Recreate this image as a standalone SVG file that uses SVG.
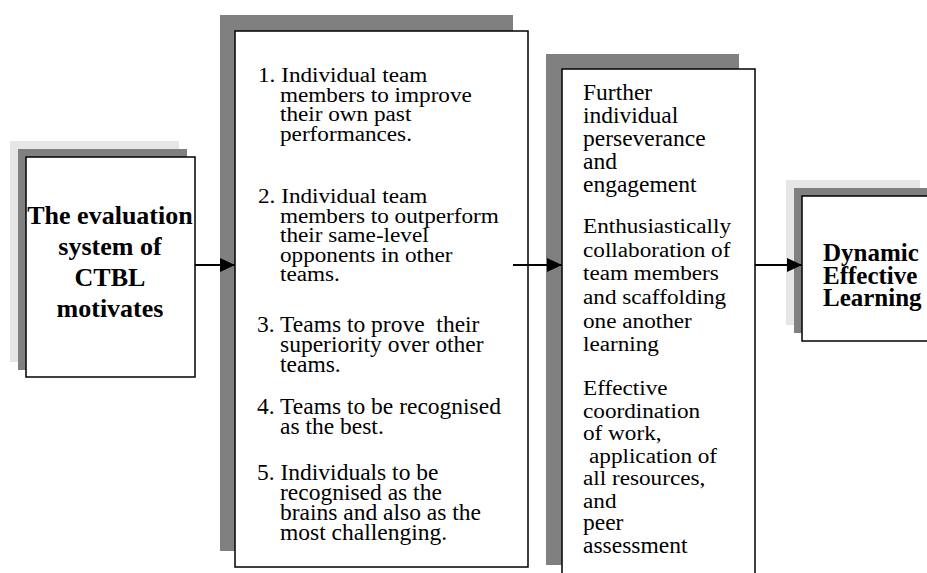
<svg xmlns="http://www.w3.org/2000/svg" width="927" height="573" viewBox="0 0 927 573">
<style>
.light{fill:#e6e6e6}
.dark{fill:#808080}
.box{fill:#fff;stroke:#000;stroke-width:1.5}
.bold{font-family:"Liberation Serif","Times New Roman",serif;font-weight:bold;fill:#000}
.tms{font-family:"Liberation Serif","Times New Roman",serif;font-size:23.5px;fill:#000}
.gar{font-family:"Liberation Serif","Times New Roman",serif;font-size:20px;fill:#000}
.conn{stroke:#000;stroke-width:2;fill:none}
</style>
<defs>
<marker id="ah" markerUnits="userSpaceOnUse" markerWidth="15" markerHeight="14" refX="15" refY="7" orient="auto">
<path d="M0,0 L15,7 L0,14 z" fill="#000"/>
</marker>
</defs>
<rect width="927" height="573" fill="#fff"/>

<g id="evaluation">
<rect class="light" x="10" y="141" width="169" height="221"/>
<rect class="dark" x="18" y="149" width="169" height="221"/>
<rect class="box" x="26" y="157" width="169" height="220"/>
<g class="bold" font-size="26" text-anchor="middle">
<text x="110" y="224">The evaluation</text>
<text x="110" y="255">system of</text>
<text x="110" y="286">CTBL</text>
<text x="110" y="317">motivates</text>
</g>
</g>

<g id="goals">
<rect class="dark" x="220" y="15" width="293" height="536"/>
<rect class="box" x="235" y="31" width="293" height="536"/>
<g class="gar">
<text transform="translate(258,82) scale(1.16,1)">1. Individual team</text>
<text transform="translate(280,101.5) scale(1.16,1)">members to improve</text>
<text transform="translate(280,121) scale(1.16,1)">their own past</text>
<text transform="translate(280,140.5) scale(1.16,1)">performances.</text>
<text transform="translate(258,203) scale(1.16,1)">2. Individual team</text>
<text transform="translate(280,222.5) scale(1.16,1)">members to outperform</text>
<text transform="translate(280,242) scale(1.16,1)">their same-level</text>
<text transform="translate(280,261.5) scale(1.16,1)">opponents in other</text>
<text transform="translate(280,281) scale(1.16,1)">teams.</text>
</g>
<g class="tms">
<text x="257" y="332" style="white-space:pre">3. Teams to prove  their</text>
<text x="280" y="352">superiority over other</text>
<text x="280" y="372">teams.</text>
<text x="257" y="414">4. Teams to be recognised</text>
<text x="280" y="434">as the best.</text>
<text x="257" y="480">5. Individuals to be</text>
<text x="280" y="500">recognised as the</text>
<text x="280" y="520">brains and also as the</text>
<text x="280" y="540">most challenging.</text>
</g>
</g>

<g id="outcomes">
<rect class="dark" x="546" y="54" width="193" height="511"/>
<rect class="box" x="562" y="69" width="193" height="520"/>
<g class="tms">
<text x="583" y="100">Further</text>
<text x="583" y="123">individual</text>
<text x="583" y="146">perseverance</text>
<text x="583" y="169">and</text>
<text x="583" y="192">engagement</text>
</g>
<g class="gar">
<text transform="translate(583,233) scale(1.16,1)">Enthusiastically</text>
<text transform="translate(583,256.6) scale(1.16,1)">collaboration of</text>
<text transform="translate(583,280) scale(1.16,1)">team members</text>
<text transform="translate(583,304) scale(1.16,1)">and scaffolding</text>
<text transform="translate(583,327.5) scale(1.16,1)">one another</text>
<text transform="translate(583,351) scale(1.16,1)">learning</text>
<text transform="translate(583,395) scale(1.16,1)">Effective</text>
<text transform="translate(583,417.5) scale(1.16,1)">coordination</text>
<text transform="translate(583,440) scale(1.16,1)">of work,</text>
<text transform="translate(589,462.5) scale(1.16,1)">application of</text>
<text transform="translate(583,485) scale(1.16,1)">all resources,</text>
<text transform="translate(583,507.5) scale(1.16,1)">and</text>
</g>
<g class="tms">
<text x="583" y="530">peer</text>
<text x="583" y="552.5">assessment</text>
</g>
</g>

<g id="learning">
<rect class="light" x="786" y="180" width="134" height="145"/>
<rect class="dark" x="794" y="188" width="134" height="145"/>
<rect class="box" x="802" y="196" width="134" height="145"/>
<g class="bold" font-size="25">
<text x="823" y="261">Dynamic</text>
<text x="823" y="283.5">Effective</text>
<text x="823" y="306">Learning</text>
</g>
</g>

<g id="connectors">
<line class="conn" x1="195" y1="265" x2="235" y2="265" marker-end="url(#ah)"/>
<line class="conn" x1="513" y1="265" x2="562" y2="265" marker-end="url(#ah)"/>
<line class="conn" x1="755" y1="265" x2="802" y2="265" marker-end="url(#ah)"/>
</g>
</svg>
